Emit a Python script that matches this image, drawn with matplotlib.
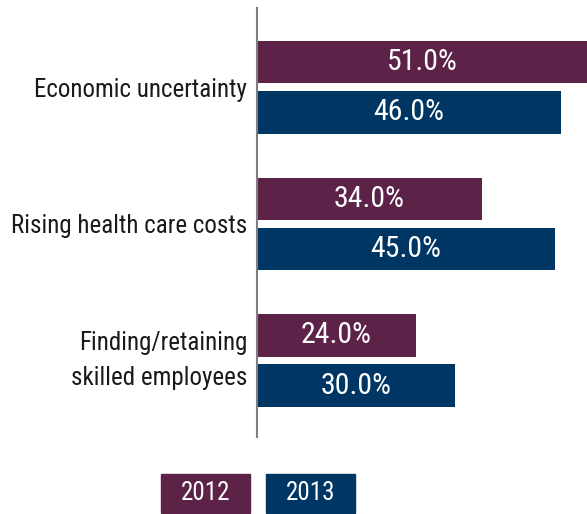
import matplotlib
matplotlib.use('Agg')
import matplotlib.pyplot as plt
import matplotlib.transforms as mtransforms
from matplotlib.patches import Rectangle
import numpy as np

plt.rcParams['font.family'] = ['Roboto Condensed', 'Liberation Sans Narrow', 'DejaVu Sans']
plt.rcParams['font.stretch'] = 'condensed'

categories = ['Economic uncertainty', 'Rising health care costs',
              'Finding/retaining\nskilled employees']
years = ['2012', '2013']
vals_2012 = [51.0, 34.0, 24.0]
vals_2013 = [46.0, 45.0, 30.0]

purple = '#5c2248'
navy = '#003664'

fig = plt.figure(figsize=(5.87, 5.14), dpi=100)
ax = fig.add_axes([257 / 587, 77 / 514, 330 / 587, 429 / 514])

y = np.arange(len(categories))
h = 0.31
off = 0.184
xmax = 49.9

for vals, dy, col in [(vals_2012, -off, purple), (vals_2013, off, navy)]:
    ax.barh(y + dy, vals, height=h, color=col, left=0)
    for yi, v in zip(y, vals):
        ax.text(min(v, xmax) / 2, yi + dy, f'{v:.1f}%', color='white',
                ha='center', va='center', fontsize=21.5)

ax.set_xlim(0, xmax)
ax.set_ylim(2.56, -0.58)
ax.set_xticks([])
ax.set_yticks(y)
ax.set_yticklabels(categories, fontsize=18, color='#1a1a1a', linespacing=1.6)
ax.tick_params(axis='y', length=0, pad=7)
for lbl in ax.get_yticklabels():
    lbl.set_multialignment('right')
# two-line label sits a bit higher
lbl = ax.get_yticklabels()[2]
lbl.set_transform(lbl.get_transform() +
                  mtransforms.ScaledTranslation(0, 6 / 72, fig.dpi_scale_trans))
for s in ['top', 'right', 'bottom']:
    ax.spines[s].set_visible(False)
ax.spines['left'].set_color('#7f7f7f')
ax.spines['left'].set_linewidth(1.5)

# year boxes below the plot
for x0, lab, col in [(161, years[0], purple), (266, years[1], navy)]:
    fig.add_artist(Rectangle((x0 / 587, 1 / 514), 89 / 587, 39 / 514,
                             transform=fig.transFigure, color=col))
    fig.text((x0 + 44.5) / 587, 20.5 / 514, lab, color='white',
             ha='center', va='center', fontsize=18)

fig.savefig('out.png', dpi=100)
